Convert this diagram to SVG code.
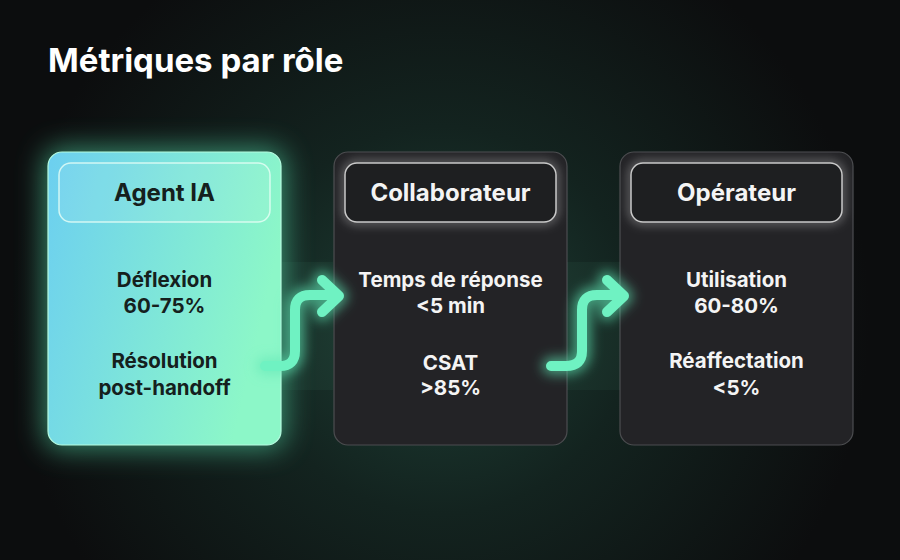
<svg xmlns="http://www.w3.org/2000/svg" width="900" height="560" viewBox="0 0 900 560">
<defs>
<radialGradient id="bgGlow" cx="440" cy="320" r="430" gradientUnits="userSpaceOnUse">
<stop offset="0" stop-color="#1e4036"/>
<stop offset="0.45" stop-color="#13231f"/>
<stop offset="1" stop-color="#0c0d0e"/>
</radialGradient>
<linearGradient id="agentFill" x1="0" y1="0" x2="1" y2="0.3">
<stop offset="0" stop-color="#6ccff0"/>
<stop offset="1" stop-color="#8cf7c8"/>
</linearGradient>
<filter id="bigGlow" x="-40%" y="-40%" width="180%" height="180%">
<feGaussianBlur stdDeviation="14"/>
</filter>
<filter id="softGlow" x="-30%" y="-30%" width="160%" height="160%">
<feGaussianBlur stdDeviation="5"/>
</filter>
<filter id="arrowGlow" x="-50%" y="-50%" width="200%" height="200%">
<feGaussianBlur stdDeviation="6"/>
</filter>
<style>
.title{font-family:Inter,"Liberation Sans",sans-serif;font-weight:700;font-size:33px;fill:#ffffff}
.head{font-family:Inter,"Liberation Sans",sans-serif;font-weight:700;font-size:24px;text-anchor:middle}
.body{font-family:Inter,"Liberation Sans",sans-serif;font-weight:700;font-size:20.5px;text-anchor:middle}
.dark{fill:#15201d}
.light{fill:#f4f4f4}
.darkCard{fill:#232326;stroke:#4c4d50;stroke-width:1.2}
.darkPill{fill:#1e1f21;stroke:#c9c9c9;stroke-width:1.5}
.pillGlow{fill:none;stroke:#ffffff;stroke-opacity:0.35;stroke-width:6}
.arrow{fill:none;stroke:#6ff2c2;stroke-width:10;stroke-linecap:round;stroke-linejoin:round}
.arrowHalo{fill:none;stroke:#5fe8b6;stroke-opacity:0.6;stroke-width:18;stroke-linecap:round;stroke-linejoin:round}
.band{fill:#7ef5c8;fill-opacity:0.04}
</style>
</defs>
<rect width="900" height="560" fill="url(#bgGlow)"/>
<text class="title" x="48" y="72">Métriques par rôle</text>

<g id="agent-ia">
<rect x="44" y="148" width="241" height="301" rx="16" fill="#59e9b4" opacity="0.55" filter="url(#bigGlow)"/>
<rect x="48" y="152" width="233" height="293" rx="14" fill="url(#agentFill)" stroke="#b6fbe0" stroke-width="1.2"/>
<rect x="59" y="163" width="211" height="59" rx="12" fill="#ffffff" fill-opacity="0.08" stroke="#e8fff6" stroke-opacity="0.8" stroke-width="1.5"/>
<text class="head dark" x="164.5" y="201">Agent IA</text>
<text class="body dark" x="164.5" y="287">Déflexion</text>
<text class="body dark" x="164.5" y="313">60-75%</text>
<text class="body dark" x="164.5" y="368">Résolution</text>
<text class="body dark" x="164.5" y="395">post-handoff</text>
</g>

<g id="collaborateur">
<rect class="darkCard" x="334" y="152" width="233" height="293" rx="14"/>
<rect class="pillGlow" x="345" y="163" width="211" height="59" rx="12" filter="url(#softGlow)"/>
<rect class="darkPill" x="345" y="163" width="211" height="59" rx="12"/>
<text class="head light" x="450.5" y="201">Collaborateur</text>
<text class="body light" x="450.5" y="287">Temps de réponse</text>
<text class="body light" x="450.5" y="313">&lt;5 min</text>
<text class="body light" x="450.5" y="370">CSAT</text>
<text class="body light" x="450.5" y="395">&gt;85%</text>
</g>

<g id="operateur">
<rect class="darkCard" x="620" y="152" width="233" height="293" rx="14"/>
<rect class="pillGlow" x="631" y="163" width="211" height="59" rx="12" filter="url(#softGlow)"/>
<rect class="darkPill" x="631" y="163" width="211" height="59" rx="12"/>
<text class="head light" x="736.5" y="201">Opérateur</text>
<text class="body light" x="736.5" y="287">Utilisation</text>
<text class="body light" x="736.5" y="313">60-80%</text>
<text class="body light" x="736.5" y="368">Réaffectation</text>
<text class="body light" x="736.5" y="395">&lt;5%</text>
</g>

<g id="connectors">
<rect class="band" x="282" y="262" width="51" height="128"/>
<rect class="band" x="567" y="262" width="53" height="128"/>
<g filter="url(#arrowGlow)">
<path class="arrowHalo" d="M265,366 H280 Q295,366 295,351 V310 Q295,295 310,295 H336 M322,280 L339,296 L322,312"/>
<path class="arrowHalo" d="M551,366 H566 Q582,366 582,351 V310 Q582,295 597,295 H622 M607,280 L624,296 L607,312"/>
</g>
<path class="arrow" d="M265,366 H280 Q295,366 295,351 V310 Q295,295 310,295 H336 M322,280 L339,296 L322,312"/>
<path class="arrow" d="M551,366 H566 Q582,366 582,351 V310 Q582,295 597,295 H622 M607,280 L624,296 L607,312"/>
</g>
</svg>
